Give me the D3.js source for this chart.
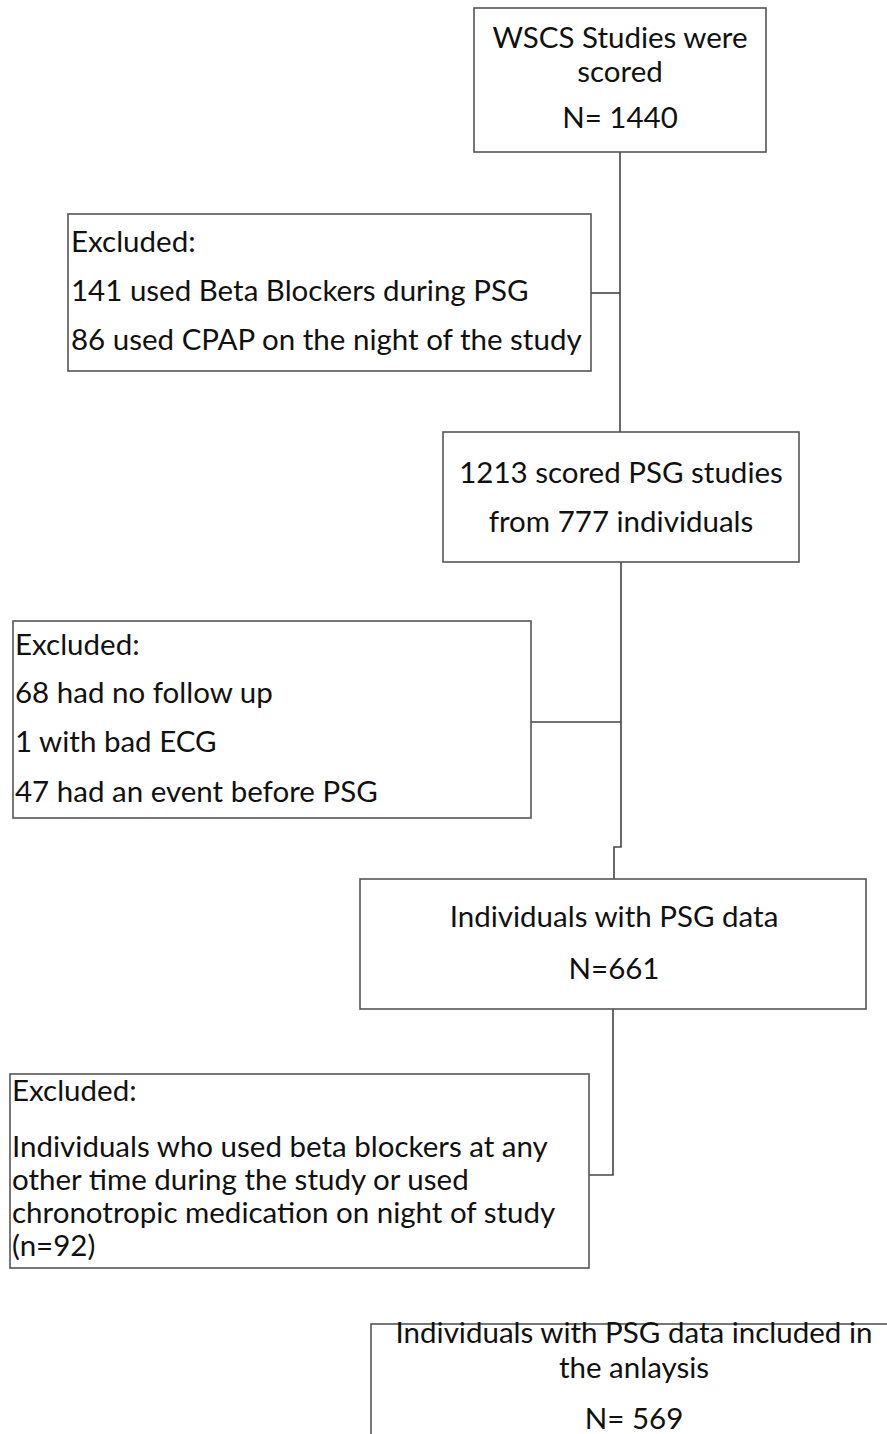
<!DOCTYPE html>
<html>
<head>
<meta charset="utf-8">
<script src="https://cdn.jsdelivr.net/npm/d3@7"></script>
<style>
  body { margin: 0; background: #fff; }
  text { font-family: Lato, "Open Sans", sans-serif; fill: #111; }
</style>
</head>
<body>
<div id="drawingfield"></div>
<script>
// text of each box in the flow
var startLines = ["WSCS Studies were", "scored", "N= 1440"];
var excl1Lines = ["Excluded:", "141 used Beta Blockers during PSG", "86 used CPAP on the night of the study"];
var scoredLines = ["1213 scored PSG studies", "from 777 individuals"];
var excl2Lines = ["Excluded:", "68  had no follow up", "1 with bad ECG", "47 had an event before PSG"];
var psgLines = ["Individuals with PSG data", "N=661"];
var excl3Lines = ["Excluded:", "Individuals who used beta blockers at any", "other time during the study or used",
                  "chronotropic medication on night of study", "(n=92)"];
var finalLines = ["Individuals with PSG data included in", "the anlaysis", "N= 569"];

var width = 887, height = 1434;

var svg = d3.select("#drawingfield").append("svg")
    .attr("width", width)
    .attr("height", height);

// layout of the boxes (pixels)
var boxes = [
  {lines: startLines,  x: 474, y: 8,    w: 292, h: 144, align: "middle", tx: 620, base: [48, 82, 128]},
  {lines: excl1Lines,  x: 68,  y: 214,  w: 523, h: 157, align: "start",  tx: 71,  base: [252, 301, 350]},
  {lines: scoredLines, x: 443, y: 432,  w: 356, h: 130, align: "middle", tx: 621, base: [483, 532]},
  {lines: excl2Lines,  x: 13,  y: 621,  w: 518, h: 197, align: "start",  tx: 15,  base: [655, 703, 752, 802]},
  {lines: psgLines,    x: 360, y: 879,  w: 506, h: 130, align: "middle", tx: 614, base: [927, 979]},
  {lines: excl3Lines,  x: 10,  y: 1074, w: 579, h: 194, align: "start",  tx: 12,  base: [1101, 1157, 1190, 1223, 1256]},
  {lines: finalLines,  x: 371, y: 1324, w: 530, h: 130, align: "middle", tx: 634, base: [1343, 1378, 1429]}
];

// connector polylines
var links = [
  [[620, 152], [620, 432]],
  [[591, 293], [620, 293]],
  [[621, 562], [621, 847], [614, 847], [614, 879]],
  [[531, 722], [621, 722]],
  [[613, 1009], [613, 1175], [589, 1175]]
];

var line = d3.line();

svg.selectAll(".link")
  .data(links)
  .enter()
  .append("path")
  .attr("class", "link")
  .attr("d", line)
  .attr("fill", "none")
  .attr("stroke", "#444")
  .attr("stroke-width", 1.6);

var g = svg.selectAll(".box")
  .data(boxes)
  .enter()
  .append("g")
  .attr("class", "box");

g.append("rect")
  .attr("x", function(d){ return d.x; })
  .attr("y", function(d){ return d.y; })
  .attr("width", function(d){ return d.w; })
  .attr("height", function(d){ return d.h; })
  .attr("fill", "#fff")
  .attr("stroke", "#555")
  .attr("stroke-width", 1.6);

g.each(function(d){
  d3.select(this).selectAll("text")
    .data(d.lines)
    .enter()
    .append("text")
    .attr("x", d.tx)
    .attr("y", function(t, i){ return d.base[i]; })
    .attr("text-anchor", d.align)
    .attr("font-size", 29.5)
    .text(function(t){ return t; });
});
</script>
</body>
</html>
